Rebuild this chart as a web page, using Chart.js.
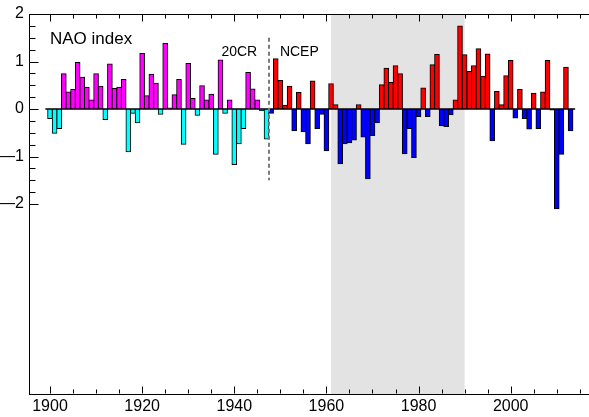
<!DOCTYPE html>
<html>
<head>
<meta charset="utf-8">
<script src="https://cdn.jsdelivr.net/npm/chart.js@4.4.1/dist/chart.umd.min.js"></script>
<style>
  html, body { margin: 0; padding: 0; background: #fff; }
  #nao { display: block; }
</style>
</head>
<body>
<canvas id="nao" width="589" height="417"></canvas>
<script>
// Winter NAO index, 20CR reanalysis up to 1947, NCEP from 1948 on
const YEARS_20CR = [
  1900, 1901, 1902, 1903, 1904, 1905, 1906, 1907, 1908, 1909,
  1910, 1911, 1912, 1913, 1914, 1915, 1916, 1917, 1918, 1919,
  1920, 1921, 1922, 1923, 1924, 1925, 1926, 1927, 1928, 1929,
  1930, 1931, 1932, 1933, 1934, 1935, 1936, 1937, 1938, 1939,
  1940, 1941, 1942, 1943, 1944, 1945, 1946, 1947,
];
const NAO_20CR = [
  -0.20, -0.51, -0.41, 0.74, 0.36, 0.41, 0.98, 0.67, 0.46, 0.19,
   0.74, 0.48, -0.22, 0.95, 0.43, 0.46, 0.62, -0.90, -0.09, -0.29,
   1.17, 0.28, 0.73, 0.54, -0.11, 1.38, 0.02, 0.30, 0.62, -0.74,
   0.96, 0.22, -0.13, 0.49, 0.19, 0.31, -0.95, 1.03, -0.09, 0.19,
  -1.17, -0.73, -0.41, 0.77, 0.42, 0.19, -0.03, -0.63,
];
const YEARS_NCEP = [
  1948, 1949, 1950, 1951, 1952, 1953, 1954, 1955, 1956, 1957,
  1958, 1959, 1960, 1961, 1962, 1963, 1964, 1965, 1966, 1967,
  1968, 1969, 1970, 1971, 1972, 1973, 1974, 1975, 1976, 1977,
  1978, 1979, 1980, 1981, 1982, 1983, 1984, 1985, 1986, 1987,
  1988, 1989, 1990, 1991, 1992, 1993, 1994, 1995, 1996, 1997,
  1998, 1999, 2000, 2001, 2002, 2003, 2004, 2005, 2006, 2007,
  2008, 2009, 2010, 2011, 2012, 2013,
];
const NAO_NCEP = [
  -0.09, 1.06, 0.60, 0.08, 0.48, -0.46, 0.35, -0.48, -0.73, 0.59,
  -0.41, -0.11, -0.88, 0.53, 0.09, -1.15, -0.73, -0.71, -0.65, 0.09,
  -0.59, -1.47, -0.56, -0.29, 0.51, 0.86, 0.56, 0.91, 0.74, -0.94,
  -0.41, -1.02, -0.16, 0.44, -0.16, 0.93, 1.15, -0.35, -0.37, -0.12,
   0.19, 1.75, 1.14, 0.79, 0.91, 1.27, 0.69, 1.16, -0.67, 0.37,
   0.09, 0.70, 1.02, -0.19, 0.41, -0.20, -0.42, 0.33, -0.41, 0.36,
   1.02, -0.02, -2.10, -0.95, 0.88, -0.46,
];

const X_TICKS = [1900, 1920, 1940, 1960, 1980, 2000];
const Y_TICKS = [-2, -1, 0, 1, 2];
const REF_PERIOD = [1961, 1990];   // shaded climatology window
const SPLICE_YEAR = 1947.5;        // 20CR -> NCEP changeover

const C = {
  cr_pos:   "#ff00ff",
  cr_neg:   "#00ffff",
  ncep_pos: "#ff0000",
  ncep_neg: "#0000ff",
  band:     "#e3e3e3",
  splice:   "#7a7a7a",
  ink:      "#000000",
};
const FONT = "'Liberation Sans', Arial, Helvetica, sans-serif";

const toPoints = (xs, ys) => xs.map((x, i) => ({ x, y: ys[i] }));

// Band, zero line, splice marker, inward ticks and in-plot labels
const decor = {
  id: "naoDecor",
  beforeDatasetsDraw(chart) {
    const { ctx, chartArea: a, scales: { x } } = chart;
    const x0 = x.getPixelForValue(REF_PERIOD[0]);
    const x1 = x.getPixelForValue(REF_PERIOD[1]);
    ctx.save();
    ctx.fillStyle = C.band;
    ctx.fillRect(x0, a.top, x1 - x0, a.bottom - a.top);
    ctx.restore();
  },
  afterDatasetsDraw(chart) {
    const { ctx, chartArea: a, scales: { x, y } } = chart;
    ctx.save();

    // zero line
    ctx.strokeStyle = C.ink;
    ctx.lineWidth = 1.5;
    ctx.beginPath();
    ctx.moveTo(x.getPixelForValue(1899), y.getPixelForValue(0));
    ctx.lineTo(x.getPixelForValue(2014), y.getPixelForValue(0));
    ctx.stroke();

    // dataset splice
    const sx = Math.round(x.getPixelForValue(SPLICE_YEAR));
    ctx.strokeStyle = C.splice;
    ctx.lineWidth = 2;
    ctx.setLineDash([4, 3]);
    ctx.beginPath();
    ctx.moveTo(sx, y.getPixelForValue(1.5));
    ctx.lineTo(sx, y.getPixelForValue(-1.5));
    ctx.stroke();
    ctx.setLineDash([]);

    // top frame line
    ctx.strokeStyle = C.ink;
    ctx.lineWidth = 1;
    const top = Math.round(a.top) + 0.5;
    ctx.beginPath();
    ctx.moveTo(a.left, top);
    ctx.lineTo(a.right, top);
    ctx.stroke();

    // x ticks every 5 years, pointing inward top and bottom
    const bot = Math.round(a.bottom) - 0.5;
    ctx.beginPath();
    for (let yr = 1900; yr <= 2015; yr += 5) {
      const px = Math.round(x.getPixelForValue(yr)) + 0.5;
      const len = yr % 20 === 0 ? 7 : 4;
      ctx.moveTo(px, top); ctx.lineTo(px, top + len);
      ctx.moveTo(px, bot); ctx.lineTo(px, bot - len);
    }
    // y ticks every 0.25 between -2 and 2
    const left = Math.round(a.left) + 0.5;
    for (let v = -2; v <= 2; v += 0.25) {
      const py = Math.round(y.getPixelForValue(v)) + 0.5;
      const len = Number.isInteger(v) ? 9 : 6;
      ctx.moveTo(left, py); ctx.lineTo(left + len, py);
    }
    ctx.stroke();

    // labels inside the plot
    ctx.fillStyle = C.ink;
    ctx.textAlign = "left";
    ctx.textBaseline = "alphabetic";
    ctx.font = `17px ${FONT}`;
    ctx.fillText("NAO index", x.getPixelForValue(1900), y.getPixelForValue(1.36));
    ctx.font = `14px ${FONT}`;
    ctx.fillText("20CR", x.getPixelForValue(1937.2), y.getPixelForValue(1.12));
    ctx.fillText("NCEP", x.getPixelForValue(1949.9), y.getPixelForValue(1.12));

    ctx.restore();
  },
};

const barStyle = (pos, neg) => ({
  backgroundColor: (c) => (c.raw && c.raw.y < 0 ? neg : pos),
  borderColor: C.ink,
  borderWidth: 1,
  borderSkipped: "start",
  grouped: false,
  barPercentage: 1,
  categoryPercentage: 1,
  inflateAmount: 0.5,   // neighbours share one outline
});

new Chart(document.getElementById("nao"), {
  type: "bar",
  data: {
    datasets: [
      { label: "20CR", data: toPoints(YEARS_20CR, NAO_20CR), ...barStyle(C.cr_pos, C.cr_neg) },
      { label: "NCEP", data: toPoints(YEARS_NCEP, NAO_NCEP), ...barStyle(C.ncep_pos, C.ncep_neg) },
    ],
  },
  options: {
    responsive: false,
    animation: false,
    devicePixelRatio: 1,
    layout: { padding: { top: 14, right: 0, bottom: 0, left: 0 } },
    plugins: { legend: { display: false }, tooltip: { enabled: false } },
    scales: {
      x: {
        type: "linear",
        min: 1895.44,
        max: 2017,
        offset: false,
        grid: { display: false, drawTicks: false, offset: false },
        border: { display: true, color: C.ink, width: 1 },
        ticks: {
          color: C.ink,
          font: { family: FONT, size: 16 },
          padding: 3,
          maxRotation: 0,
          autoSkip: false,
          callback: (v) => String(v),
        },
        afterBuildTicks: (s) => { s.ticks = X_TICKS.map((value) => ({ value })); },
        afterFit: (s) => { s.height = 23; s.paddingLeft = 0; s.paddingRight = 0; },
      },
      y: {
        min: -6,
        max: 2,
        grid: { display: false, drawTicks: false },
        border: { display: true, color: C.ink, width: 1 },
        ticks: {
          color: C.ink,
          font: { family: FONT, size: 16 },
          padding: 5,
          autoSkip: false,
          callback: (v) => (v < 0 ? "\u2014" + Math.abs(v) : String(v)),
        },
        afterBuildTicks: (s) => { s.ticks = Y_TICKS.map((value) => ({ value })); },
        afterFit: (s) => { s.width = 29; s.paddingTop = 0; s.paddingBottom = 0; },
      },
    },
  },
  plugins: [decor],
});
</script>
</body>
</html>
